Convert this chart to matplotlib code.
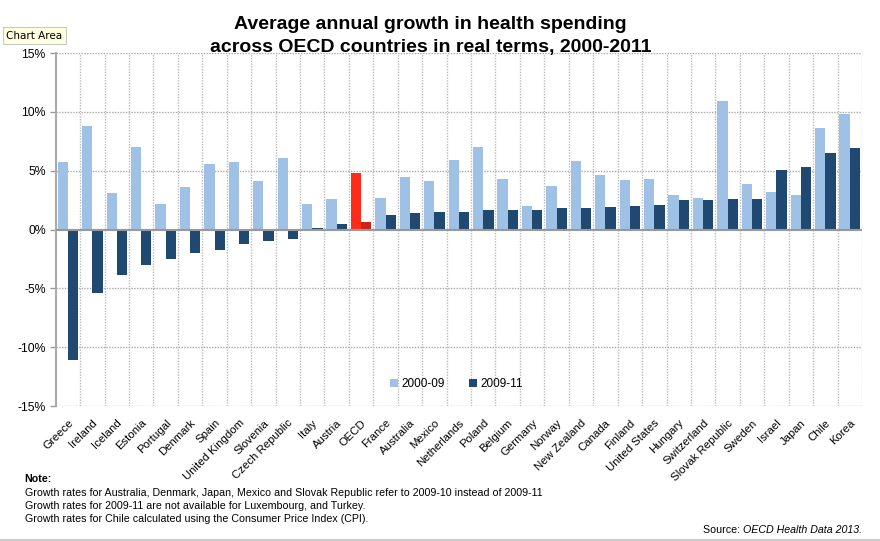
import matplotlib
matplotlib.use("Agg")
import matplotlib.pyplot as plt
import numpy as np

countries = ["Greece", "Ireland", "Iceland", "Estonia", "Portugal", "Denmark", "Spain",
             "United Kingdom", "Slovenia", "Czech Republic", "Italy", "Austria", "OECD",
             "France", "Australia", "Mexico", "Netherlands", "Poland", "Belgium", "Germany",
             "Norway", "New Zealand", "Canada", "Finland", "United States", "Hungary",
             "Switzerland", "Slovak Republic", "Sweden", "Israel", "Japan", "Chile", "Korea"]
growth_2000_09 = [5.7, 8.8, 3.1, 7.0, 2.2, 3.6, 5.6, 5.7, 4.1, 6.1, 2.2, 2.6, 4.8,
                  2.7, 4.5, 4.1, 5.9, 7.0, 4.3, 2.0, 3.7, 5.8, 4.6, 4.2, 4.3, 2.9,
                  2.7, 10.9, 3.9, 3.2, 2.9, 8.6, 9.8]
growth_2009_11 = [-11.1, -5.4, -3.9, -3.0, -2.5, -2.0, -1.7, -1.2, -1.0, -0.8, 0.1, 0.5, 0.6,
                  1.2, 1.4, 1.5, 1.5, 1.7, 1.7, 1.7, 1.8, 1.8, 1.9, 2.0, 2.1, 2.5,
                  2.5, 2.6, 2.6, 5.1, 5.3, 6.5, 6.9]
series_labels = ["2000-09", "2009-11"]
ytick_vals = [-15, -10, -5, 0, 5, 10, 15]

FONT = "Liberation Sans"
plt.rcParams["font.family"] = [FONT, "DejaVu Sans"]

LIGHT = "#9FC1E6"
DARK = "#1F4970"
RED_L = "#FF2A1A"
RED_D = "#CC2218"

fig = plt.figure(figsize=(8.8, 5.41), dpi=100)
ax = fig.add_axes([0.0633, 0.2495, 0.9162, 0.6525])

n = len(countries)
x = np.arange(n)
w = 0.42
c1 = [RED_L if c == "OECD" else LIGHT for c in countries]
c2 = [RED_D if c == "OECD" else DARK for c in countries]
ax.bar(x - w / 2, growth_2000_09, width=w, color=c1, label=series_labels[0], zorder=3)
ax.bar(x + w / 2, growth_2009_11, width=w, color=c2, label=series_labels[1], zorder=3)

ax.set_xlim(-0.5, n - 0.5)
ax.set_ylim(-15, 15)
ax.set_yticks(ytick_vals)
ax.set_yticklabels([f"{v}%" for v in ytick_vals], fontsize=8.8)
ax.set_xticks(x)
ax.set_xticklabels(countries, rotation=45, ha="right", va="top", rotation_mode="anchor",
                   fontsize=8.2)
ax.tick_params(axis="x", length=0, pad=8.5)
ax.tick_params(axis="y", length=4, color="#999999", width=1, pad=3)

# grid
for yv in ytick_vals:
    if yv != 0:
        ax.axhline(yv, color="#AAAAAA", lw=1, ls=(0, (1, 1)), zorder=1)
for xv in np.arange(-0.5, n, 1.0)[1:]:
    ax.axvline(xv, color="#BBBBBB", lw=1, ls=(0, (1, 1)), zorder=1)
ax.axhline(0, color="#999999", lw=1.5, zorder=4)

for s in ["top", "right", "bottom"]:
    ax.spines[s].set_visible(False)
ax.spines["left"].set_color("#AAAAAA")
ax.spines["left"].set_linewidth(1.5)

leg = ax.legend(loc="center", bbox_to_anchor=(0.497, 0.062), ncol=2, frameon=False,
                fontsize=8.5, handlelength=0.7, handleheight=0.7, handletextpad=0.3,
                columnspacing=2.0)

fig.text(0.489, 0.954, "Average annual growth in health spending", ha="center", va="center",
         fontsize=14, fontweight="bold")
fig.text(0.489, 0.913, "across OECD countries in real terms, 2000-2011", ha="center",
         va="center", fontsize=14, fontweight="bold")

# tooltip label
fig.text(0.007, 0.934, "Chart Area", ha="left", va="center", fontsize=7.5,
         family=["Lucida Grande", "DejaVu Sans"],
         bbox=dict(boxstyle="square,pad=0.35", fc="#FFFFE0", ec="#BBBBBB", lw=0.6))

fig.text(0.028, 0.115, "Note:", fontsize=7.7, fontweight="bold", va="center")
notes = ["Growth rates for Australia, Denmark, Japan, Mexico and Slovak Republic refer to 2009-10 instead of 2009-11",
         "Growth rates for 2009-11 are not available for Luxembourg, and Turkey.",
         "Growth rates for Chile calculated using the Consumer Price Index (CPI)."]
for i, t in enumerate(notes):
    fig.text(0.028, 0.089 - i * 0.024, t, fontsize=7.7, va="center")

src = fig.text(0.98, 0.02, "OECD Health Data 2013.", fontsize=7.7, style="italic",
               ha="right", va="center")
fig.canvas.draw()
bb = src.get_window_extent()
fig.text(bb.x0 / fig.bbox.width, 0.02, "Source: ", fontsize=7.7, ha="right", va="center")

fig.add_artist(plt.Line2D([0, 1], [0.002, 0.002], color="#CCCCCC", lw=1.5,
                          transform=fig.transFigure))

fig.savefig("out.png", dpi=100)
